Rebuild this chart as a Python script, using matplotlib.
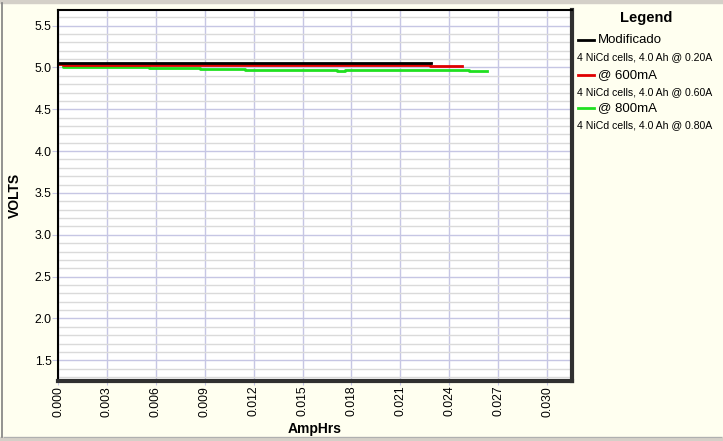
import matplotlib
matplotlib.use("Agg")
import matplotlib.pyplot as plt
from matplotlib.lines import Line2D
from matplotlib.patches import Rectangle
from matplotlib.ticker import MultipleLocator, FormatStrFormatter

plt.rcParams["font.family"] = ["Liberation Sans", "DejaVu Sans"]

# ---- data (step curves) ----
black_ah = [0.0, 0.0002, 0.0229]
black_v = [5.055, 5.048, 5.048]

red_ah = [0.0, 0.0003, 0.0013, 0.0067, 0.0080, 0.0168, 0.0172, 0.0182, 0.0188,
          0.0194, 0.0207, 0.0210, 0.0222, 0.0228, 0.0248]
red_v = [5.04, 5.032, 5.035, 5.03, 5.025, 5.035, 5.025, 5.035, 5.025,
         5.035, 5.025, 5.035, 5.025, 5.02, 5.02]

green_ah = [0.0, 0.0003, 0.0025, 0.0056, 0.0087, 0.0115, 0.0171, 0.0176, 0.0252, 0.0263]
green_v = [5.04, 5.01, 5.003, 4.995, 4.985, 4.975, 4.963, 4.975, 4.96, 4.96]

series_names = ["Modificado", "@ 600mA", "@ 800mA"]
series_notes = ["4 NiCd cells, 4.0 Ah @ 0.20A",
                "4 NiCd cells, 4.0 Ah @ 0.60A",
                "4 NiCd cells, 4.0 Ah @ 0.80A"]
series_colors = ["#000000", "#e00000", "#20e020"]

x_ticks = [0.000, 0.003, 0.006, 0.009, 0.012, 0.015, 0.018, 0.021, 0.024, 0.027, 0.030]
y_ticks = [1.5, 2.0, 2.5, 3.0, 3.5, 4.0, 4.5, 5.0, 5.5]

bg = "#fffff0"
fig = plt.figure(figsize=(7.23, 4.41), dpi=100, facecolor=bg)
ax = fig.add_axes([58/723, 60/441, (572-58)/723, (381-10)/441])
ax.set_facecolor("white")

ax.set_xlim(0, 0.03153)
ax.set_ylim(1.252, 5.687)

ax.yaxis.set_minor_locator(MultipleLocator(0.1))
ax.set_yticks(y_ticks)
ax.set_xticks(x_ticks)
ax.xaxis.set_major_formatter(FormatStrFormatter("%.3f"))
ax.yaxis.set_major_formatter(FormatStrFormatter("%.1f"))

ax.grid(True, which="minor", axis="y", color="#dadada", lw=1.0)
ax.grid(True, which="major", axis="both", color="#c6c6e4", lw=1.0)
ax.set_axisbelow(True)

ax.tick_params(axis="y", which="major", length=4, color="#c6c6e4", labelsize=8.8, pad=0.5)
ax.tick_params(axis="y", which="minor", length=0)
ax.tick_params(axis="x", which="major", length=3, color="#c6c6e4", labelsize=8.8,
               labelrotation=90, pad=0.5)

for s in ["top", "left"]:
    ax.spines[s].set_linewidth(1.5)
    ax.spines[s].set_color("#000000")
for s in ["bottom", "right"]:
    ax.spines[s].set_linewidth(3)
    ax.spines[s].set_color("#303030")

ax.set_ylabel("VOLTS", fontsize=10, fontweight="bold", labelpad=9)
ax.set_xlabel("AmpHrs", fontsize=10, fontweight="bold", labelpad=4)

for xs, ys, c in [(green_ah, green_v, series_colors[2]),
                  (red_ah, red_v, series_colors[1]),
                  (black_ah, black_v, series_colors[0])]:
    ax.step(xs, ys, where="post", color=c, lw=2.0)

# ---- legend drawn on the figure ----
W, H = 723, 441
def fx(px):
    return px / W
def fy(py):
    return 1 - py / H

fig.text(fx(646), fy(18), "Legend", fontsize=10.5, fontweight="bold",
         ha="center", va="center")
rows = [40, 75, 108]
for i, (name, note, col) in enumerate(zip(series_names, series_notes, series_colors)):
    y = rows[i]
    fig.add_artist(Line2D([fx(578), fx(594)], [fy(y), fy(y)], color=col, lw=2))
    fig.text(fx(598), fy(y), name, fontsize=9.5, ha="left", va="center")
    fig.text(fx(577), fy(y + 17), note, fontsize=7.6, ha="left", va="center")

# window-like frame
fig.add_artist(Rectangle((0, 1 - 3/H), 1, 3/H, transform=fig.transFigure,
                         color="#d4d0c8", zorder=-1))
fig.add_artist(Rectangle((0, 0), 1, 4/H, transform=fig.transFigure,
                         color="#d4d0c8", zorder=-1))
fig.add_artist(Line2D([2/W, 2/W], [4/H, 1 - 3/H], color="#808080", lw=1.2))
fig.add_artist(Line2D([4/W, 1 - 2/W], [4/H, 4/H], color="#b0b0b0", lw=0.8))

fig.savefig("out.png", dpi=100, facecolor=bg)
